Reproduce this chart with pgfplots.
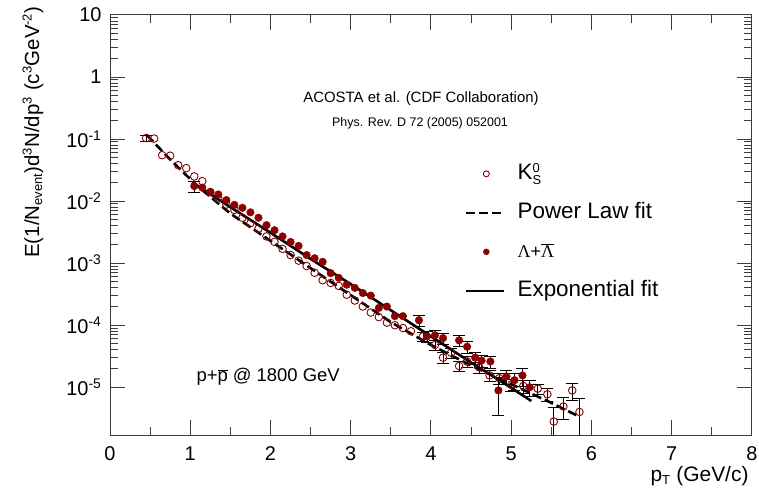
\documentclass[border=0pt]{standalone}
\usepackage{pgfplots}
\pgfplotsset{compat=1.18}
\usepackage{fontspec}
\setmainfont{Liberation Sans}
\newfontfamily\serif{Liberation Serif}
\definecolor{dred}{RGB}{140,0,0}
\definecolor{framec}{RGB}{60,60,60}
\newcommand\sss[1]{\mbox{\fontsize{13}{15}\selectfont #1}}
\pgfplotsset{
  markleg/.style={legend image code/.code={\draw[##1, mark size=3bp] plot coordinates {(20bp,0bp)};}},
  lineleg/.style={legend image code/.code={\draw[##1] (0bp,0bp) -- (38bp,0bp);}},
  errb/.style={forget plot, draw=none, mark=none,
    error bars/.cd, y dir=both, y explicit,
    error bar style={draw=black, line width=0.8bp},
    error mark options={draw=black, rotate=90, mark size=6bp, line width=0.8bp}},
}

% K0S: all points
\pgfplotstableread{
x y
0.45 0.104
0.55 0.102
0.65 0.055
0.75 0.054
0.85 0.038
0.95 0.034
1.05 0.025
1.15 0.021
1.25 0.0140
1.35 0.0110
1.45 0.0088
1.55 0.0072
1.65 0.0054
1.75 0.0044
1.85 0.0036
1.95 0.0027
2.05 0.0022
2.15 0.0017
2.25 0.00135
2.35 0.00110
2.45 0.00090
2.55 0.00070
2.65 0.00053
2.75 0.00048
2.85 0.00043
2.95 0.00031
3.05 0.00025
3.15 0.00020
3.25 0.000160
3.35 0.000135
3.45 0.000110
3.55 0.000100
3.65 0.000090
3.75 0.000080
3.9 0.000066
4.05 0.000048
4.15 0.000030
4.25 0.000036
4.35 0.000022
4.45 0.000026
4.6 0.000021
4.73 0.0000155
4.85 0.000014
5.0 0.000011
5.15 0.0000105
5.33 0.0000095
5.45 0.0000077
5.53 0.0000028
5.65 0.0000049
5.76 0.0000089
5.85 0.0000040
}\kzero

% K0S: points whose error bars show outside the marker
\pgfplotstableread{
x y e
0.45 0.104 0.012
3.9 0.000066 0.000012
4.05 0.000048 0.000009
4.15 0.000030 0.000006
4.25 0.000036 0.000007
4.35 0.000022 0.000004
4.45 0.000026 0.000005
4.6 0.000021 0.000004
4.73 0.0000155 0.000003
4.85 0.000014 0.000003
5.0 0.000011 0.0000025
5.15 0.0000105 0.0000025
5.33 0.0000095 0.0000018
5.45 0.0000077 0.0000018
5.53 0.0000028 0.000002
5.65 0.0000049 0.0000019
5.76 0.0000089 0.0000028
5.85 0.0000040 0.0000025
}\kzeroerr

\pgfplotstableread{
x y
1.05 0.0175
1.15 0.0165
1.25 0.0140
1.35 0.0128
1.45 0.0104
1.55 0.0087
1.65 0.0078
1.75 0.0066
1.85 0.0054
1.95 0.0041
2.05 0.0034
2.15 0.0027
2.25 0.0022
2.35 0.0019
2.45 0.00135
2.55 0.00120
2.65 0.00105
2.75 0.00069
2.85 0.00058
2.95 0.00045
3.05 0.00040
3.15 0.00033
3.25 0.00030
3.35 0.00019
3.45 0.00020
3.55 0.00014
3.65 0.00014
3.85 0.00012
3.95 0.000066
4.05 0.000069
4.15 0.000062
4.35 0.000057
4.45 0.000045
4.55 0.000030
4.63 0.000027
4.74 0.000026
4.84 0.0000089
4.94 0.000015
5.04 0.000013
5.14 0.0000155
5.23 0.0000100
}\lambdatab

\pgfplotstableread{
x y e
1.05 0.0175 0.0035
3.85 0.00012 0.000025
3.95 0.000066 0.000013
4.05 0.000069 0.000013
4.15 0.000062 0.000013
4.35 0.000057 0.000012
4.45 0.000045 0.00001
4.55 0.000030 0.000007
4.63 0.000027 0.000006
4.74 0.000026 0.000006
4.84 0.0000089 0.0000054
4.94 0.000015 0.000004
5.04 0.000013 0.000004
5.14 0.0000155 0.000005
5.23 0.0000100 0.000003
}\lambdaerr

\pgfplotstableread{
x y
0.46 0.116
0.75 0.0468
1.08 0.0180
1.5 0.00631
2.0 0.00229
2.5 0.00083
3.0 0.000305
3.5 0.000112
4.0 0.000048
4.5 0.0000224
5.0 0.0000112
5.5 0.0000056
5.82 0.0000035
}\powfit

\pgfplotstableread{
x y
1.05 0.0191
1.5 0.0080
2.0 0.0031
2.5 0.00117
3.0 0.00046
3.5 0.000174
4.0 0.000066
4.5 0.000025
5.0 0.0000098
5.25 0.0000060
}\expfit

\begin{document}
\begin{tikzpicture}
\useasboundingbox (0,0) rectangle (759bp,499bp);
\begin{axis}[
  at={(110bp,64bp)}, anchor=south west,
  width=642bp, height=420bp, scale only axis,
  xmin=0, xmax=8, ymode=log, ymin=1.7e-6, ymax=10,
  xtick={0,1,...,8}, minor x tick num=1,
  ytick={1e-5,1e-4,1e-3,1e-2,1e-1,1,10},
  yticklabels={10\textsuperscript{-5},10\textsuperscript{-4},10\textsuperscript{-3},10\textsuperscript{-2},10\textsuperscript{-1},1,10},
  axis line style={framec, line width=1bp},
  every tick/.style={framec, line width=1bp},
  major tick length=15bp, minor tick length=8bp,
  tick align=inside,
  /pgf/number format/assume math mode=true,
  tick label style={font=\fontsize{20}{22}\selectfont},
  xticklabel style={yshift=-8bp},
  yticklabel style={xshift=-5bp},
  legend style={at={(axis description cs:0.553,0.648)}, anchor=north west,
    draw=none, fill=none, inner sep=0pt, outer sep=0pt,
    font=\fontsize{22.5}{27}\selectfont, row sep=17bp, column sep=12bp,
    nodes={text height=17bp, text depth=5bp, inner sep=0pt}},
  legend cell align=left,
]
\addplot[errb] table[x=x, y=y, y error=e] {\kzeroerr};
\addplot[errb] table[x=x, y=y, y error=e] {\lambdaerr};
\addplot[only marks, mark=o, dred, mark size=3.8bp, line width=0.9bp, markleg]
  table[x=x, y=y] {\kzero};
\addlegendentry{K$^{\sss{0}}_{\sss{S}}$}
\addplot[black, line width=2.6bp, dash pattern=on 9bp off 4bp, lineleg]
  table[x=x, y=y] {\powfit};
\addlegendentry{Power Law fit}
\addplot[only marks, mark=*, dred, fill=dred, mark size=3.8bp, markleg]
  table[x=x, y=y] {\lambdatab};
\addlegendentry{\fontsize{18}{22}\selectfont{\serif Λ}+{\serif$\overline{\mbox{Λ}}$}}
\addplot[black, line width=2.6bp, lineleg]
  table[x=x, y=y] {\expfit};
\addlegendentry{Exponential fit}
\end{axis}
\node[anchor=base] at (421bp,396bp) {\fontsize{15}{18}\selectfont ACOSTA et al. (CDF Collaboration)};
\node[anchor=base] at (420bp,372bp) {\fontsize{12.5}{15}\selectfont Phys. Rev. D 72 (2005) 052001};
\node[anchor=base west] at (193bp,117bp) {\fontsize{18.5}{22}\selectfont p+$\overline{\mbox{p}}$ @ 1800 GeV};
\node[rotate=90, anchor=base east] at (39bp,496bp) {\fontsize{20.5}{24}\selectfont E(1/N$_{\sss{event}}$)d$^{\sss{3}}$N/dp$^{\sss{3}}$ (c$^{\sss{3}}$GeV$^{\sss{-2}}$)};
\node[anchor=base east] at (752bp,18bp) {\fontsize{21}{24}\selectfont p$_{\sss{T}}$ (GeV/c)};
\end{tikzpicture}
\end{document}
